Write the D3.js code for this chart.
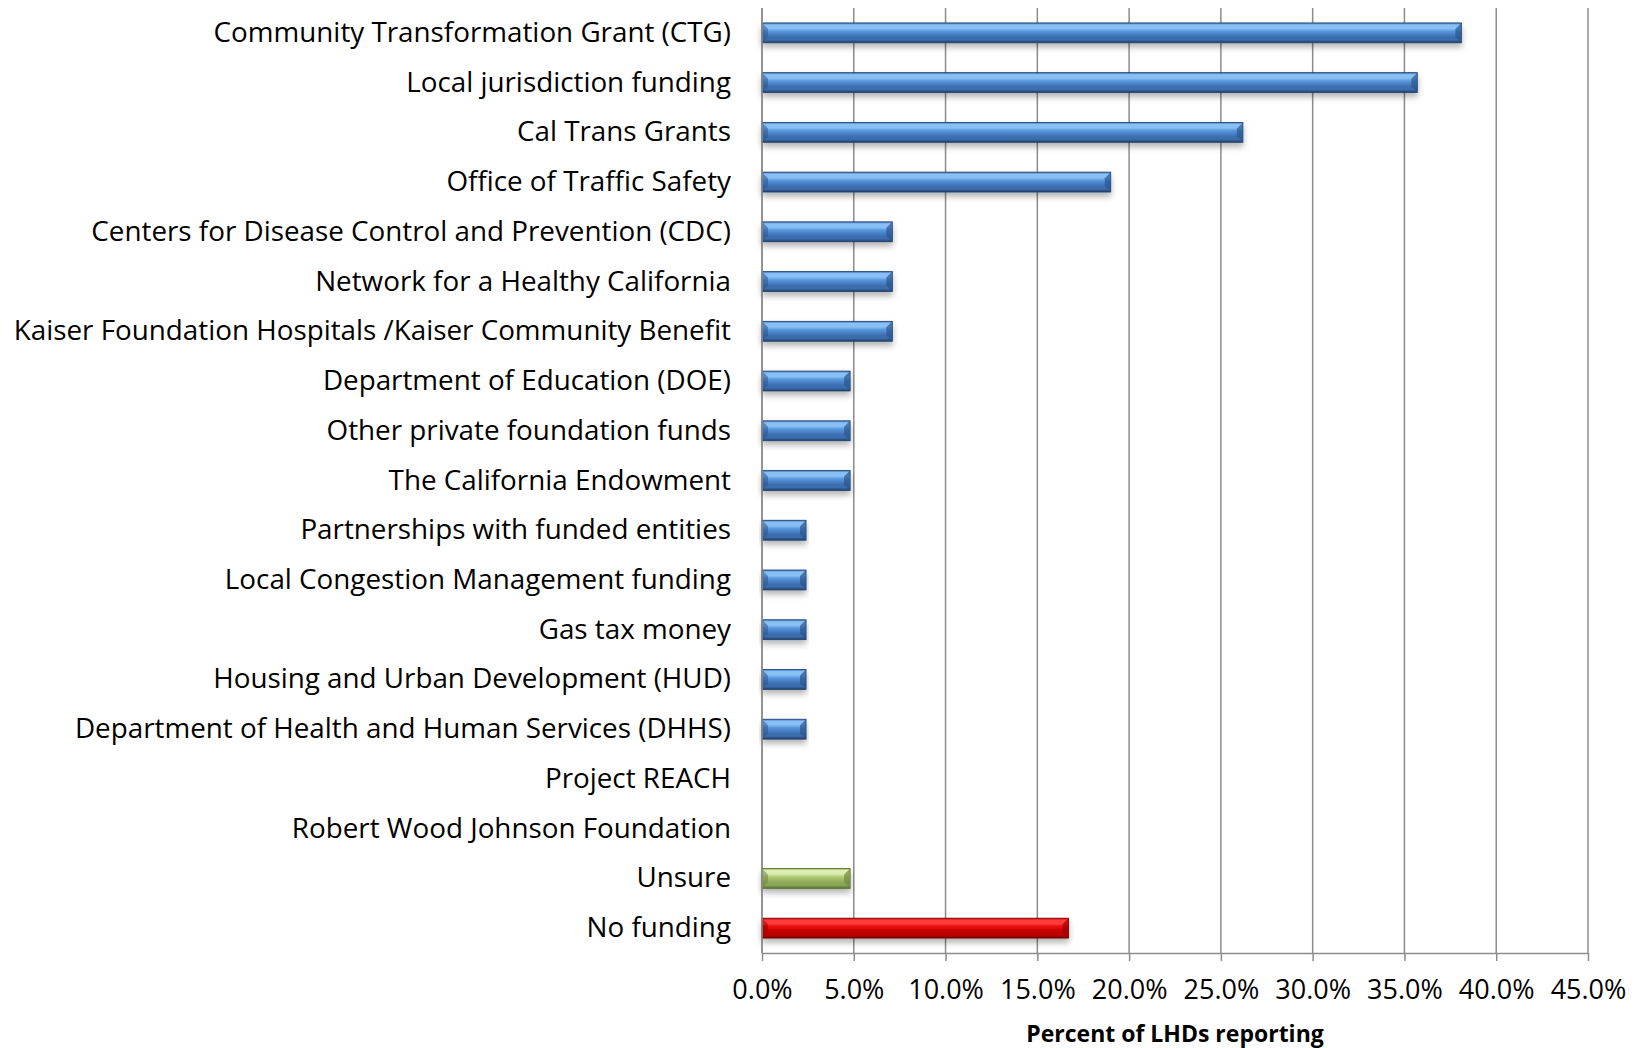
<!DOCTYPE html>
<html>
<head>
<meta charset="utf-8">
<script src="https://cdn.jsdelivr.net/npm/d3@7"></script>
<style>
  body { margin: 0; background: #fff; }
  text { font-family: "Open Sans", "Noto Sans", sans-serif; fill: #000; }
</style>
</head>
<body>
<svg id="chart" width="1636" height="1048"></svg>
<script>
const categories = [
  "Community Transformation Grant (CTG)",
  "Local jurisdiction funding",
  "Cal Trans Grants",
  "Office of Traffic Safety",
  "Centers for Disease Control and Prevention (CDC)",
  "Network for a Healthy California",
  "Kaiser Foundation Hospitals /Kaiser Community Benefit",
  "Department of Education (DOE)",
  "Other private foundation funds",
  "The California Endowment",
  "Partnerships with funded entities",
  "Local Congestion Management funding",
  "Gas tax money",
  "Housing and Urban Development (HUD)",
  "Department of Health and Human Services (DHHS)",
  "Project REACH",
  "Robert Wood Johnson Foundation",
  "Unsure",
  "No funding"
];
const values = [38.1, 35.7, 26.2, 19.0, 7.1, 7.1, 7.1, 4.8, 4.8, 4.8, 2.4, 2.4, 2.4, 2.4, 2.4, 0, 0, 4.8, 16.7];
const barKind = ["blue","blue","blue","blue","blue","blue","blue","blue","blue","blue","blue","blue","blue","blue","blue","blue","blue","green","red"];
const tickValues = [0, 5, 10, 15, 20, 25, 30, 35, 40, 45];
const axisTitle = "Percent of LHDs reporting";

const margin = {top: 8, left: 762, right: 48, bottom: 95};
const W = 1636, H = 1048;
const innerW = W - margin.left - margin.right;
const innerH = H - margin.top - margin.bottom;

const svg = d3.select("#chart");
const defs = svg.append("defs");

const palettes = {
  blue:  {edgeTop: "#3570b8", light: "#88c0f5", mid: "#5896dc", low: "#3b6daf", edgeBot: "#203f68", end: "#2b568c"},
  green: {edgeTop: "#86a44e", light: "#dcedb0", mid: "#b0cc76", low: "#8ba754", edgeBot: "#586d2e", end: "#6f873f"},
  red:   {edgeTop: "#cc0000", light: "#ff3a3a", mid: "#e60c0c", low: "#bd0000", edgeBot: "#780000", end: "#9c0000"}
};
Object.entries(palettes).forEach(([k, p]) => {
  const g = defs.append("linearGradient").attr("id", "grad-" + k)
    .attr("x1", 0).attr("y1", 0).attr("x2", 0).attr("y2", 1);
  [[0, p.edgeTop], [0.1, p.light], [0.28, p.light], [0.42, p.mid], [0.72, p.low], [0.85, p.low], [1, p.edgeBot]]
    .forEach(([o, c]) => g.append("stop").attr("offset", o).attr("stop-color", c));
});
const shadow = defs.append("filter").attr("id", "shadow")
  .attr("x", "-5%").attr("y", "-30%").attr("width", "110%").attr("height", "190%");
shadow.append("feDropShadow").attr("dx", 0).attr("dy", 4).attr("stdDeviation", 3)
  .attr("flood-color", "#000").attr("flood-opacity", 0.3);

const x = d3.scaleLinear().domain([0, 45]).range([0, innerW]);
const y = d3.scaleBand().domain(categories).range([0, innerH]).paddingInner(0.6).paddingOuter(0.3);

const g = svg.append("g").attr("transform", `translate(${margin.left},${margin.top})`);

// gridlines
g.append("g").selectAll("line").data(tickValues).enter().append("line")
  .attr("x1", d => x(d)).attr("x2", d => x(d))
  .attr("y1", 0).attr("y2", innerH)
  .attr("stroke", "#8c8c8c").attr("stroke-width", 1.5);

// bars
const bars = g.append("g").selectAll("g.bar")
  .data(categories.map((c, i) => ({c, v: values[i], k: barKind[i]})).filter(d => d.v > 0))
  .enter().append("g").attr("class", "bar")
  .attr("filter", "url(#shadow)");

bars.append("rect")
  .attr("x", 0).attr("y", d => y(d.c))
  .attr("width", d => x(d.v)).attr("height", y.bandwidth())
  .attr("fill", d => `url(#grad-${d.k})`)
  .attr("stroke", d => palettes[d.k].edgeBot).attr("stroke-width", 0.8);

// bevelled ends
const bev = 6;
bars.append("path")
  .attr("d", d => {
    const y0 = y(d.c), y1 = y0 + y.bandwidth();
    return `M0,${y0} L${bev},${y0 + bev} L${bev},${y1 - bev} L0,${y1} Z`;
  })
  .attr("fill", d => palettes[d.k].end).attr("opacity", 0.55);
bars.append("path")
  .attr("d", d => {
    const y0 = y(d.c), y1 = y0 + y.bandwidth(), x1 = x(d.v);
    return `M${x1},${y0} L${x1 - bev},${y0 + bev} L${x1 - bev},${y1 - bev} L${x1},${y1} Z`;
  })
  .attr("fill", d => palettes[d.k].end).attr("opacity", 0.7);

// left axis line
g.append("line").attr("x1", 0).attr("x2", 0).attr("y1", 0).attr("y2", innerH)
  .attr("stroke", "#8c8c8c").attr("stroke-width", 1.5);

// bottom axis
const xAxis = g.append("g").attr("transform", `translate(0,${innerH})`)
  .call(d3.axisBottom(x).tickValues(tickValues).tickSize(8).tickSizeOuter(0)
    .tickPadding(19).tickFormat(d => d.toFixed(1) + "%"));
xAxis.select(".domain").attr("stroke", "#8c8c8c").attr("stroke-width", 1.5);
xAxis.selectAll(".tick line").attr("stroke", "#8c8c8c").attr("stroke-width", 1.5);
xAxis.selectAll(".tick text")
  .style("font-family", '"Open Sans", sans-serif').style("font-size", "27px").attr("fill", "#000");

// category labels
g.append("g").selectAll("text").data(categories).enter().append("text")
  .attr("x", -31).attr("y", d => y(d) + y.bandwidth() / 2 - 2)
  .attr("text-anchor", "end").attr("dominant-baseline", "central")
  .style("font-size", "27.8px")
  .text(d => d);

// axis title
g.append("text")
  .attr("x", innerW / 2).attr("y", innerH + 80)
  .attr("text-anchor", "middle").attr("dominant-baseline", "central")
  .style("font-size", "23px").style("font-weight", "bold")
  .text(axisTitle);
</script>
</body>
</html>
